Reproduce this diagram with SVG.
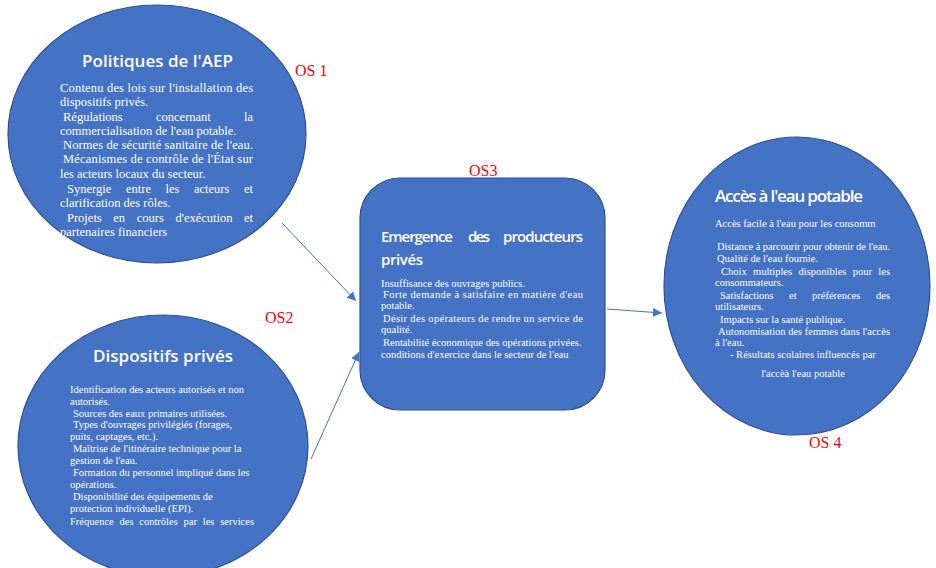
<svg xmlns="http://www.w3.org/2000/svg" width="936" height="568" viewBox="0 0 936 568">
<defs>
<style>
.node{fill:#4472C4;stroke:#2F528F;stroke-width:1.2}
.title{font-family:"Open Sans","DejaVu Sans",sans-serif;font-weight:600;font-size:17px;fill:#fff}
.t3{font-size:15px}
.b1{font-family:"Liberation Serif","Times New Roman",serif;font-size:12.5px;fill:#fff}
.b2{font-family:"Liberation Serif","Times New Roman",serif;font-size:10.5px;fill:#fff}
.os{font-family:"Liberation Serif","Times New Roman",serif;font-size:16px;fill:#FF0000}
.conn{stroke:#4472C4;stroke-width:1;fill:none}
</style>
<marker id="arr" viewBox="0 0 10 10" refX="10" refY="5" markerWidth="9" markerHeight="9" markerUnits="userSpaceOnUse" orient="auto">
<path d="M0,0 L10,5 L0,10 z" fill="#4472C4"/>
</marker>
</defs>
<rect width="936" height="568" fill="#fff"/>

<g id="connectors">
<line class="conn" x1="282" y1="223" x2="356" y2="301" marker-end="url(#arr)"/>
<line class="conn" x1="311" y1="459" x2="359" y2="352" marker-end="url(#arr)"/>
<line class="conn" x1="607" y1="309" x2="662" y2="313" marker-end="url(#arr)"/>
</g>

<g id="os1">
<ellipse class="node" cx="157" cy="134" rx="149" ry="129"/>
<text class="title" x="82" y="67" textLength="151">Politiques de l'AEP</text>
<text class="b1" x="60" y="92" textLength="193" lengthAdjust="spacing">Contenu des lois sur l'installation des</text>
<text class="b1" x="60" y="106">dispositifs privés.</text>
<text class="b1" y="121"><tspan x="63">Régulations</tspan><tspan x="156">concernant</tspan><tspan x="253" text-anchor="end">la</tspan></text>
<text class="b1" x="60" y="135">commercialisation de l'eau potable.</text>
<text class="b1" x="63" y="149" textLength="190" lengthAdjust="spacing">Normes de sécurité sanitaire de l'eau.</text>
<text class="b1" x="63" y="163" textLength="190" lengthAdjust="spacing">Mécanismes de contrôle de l'État sur</text>
<text class="b1" x="60" y="178">les acteurs locaux du secteur.</text>
<text class="b1" y="193"><tspan x="67">Synergie</tspan><tspan x="126">entre</tspan><tspan x="165.6">les</tspan><tspan x="194">acteurs</tspan><tspan x="253" text-anchor="end">et</tspan></text>
<text class="b1" x="60" y="207">clarification des rôles.</text>
<text class="b1" y="222"><tspan x="67">Projets</tspan><tspan x="113.3">en</tspan><tspan x="136.7">cours</tspan><tspan x="175.4">d'exécution</tspan><tspan x="253" text-anchor="end">et</tspan></text>
<text class="b1" x="60" y="236">partenaires financiers</text>
</g>
<text class="os" x="295" y="76">OS 1</text>

<g id="os2">
<ellipse class="node" cx="163" cy="446" rx="145" ry="131"/>
<text class="title" x="93" y="362" textLength="140">Dispositifs privés</text>
<text class="b2" x="70" y="393">Identification des acteurs autorisés et non</text>
<text class="b2" x="70" y="405">autorisés.</text>
<text class="b2" x="73" y="417">Sources des eaux primaires utilisées.</text>
<text class="b2" x="73" y="428">Types d'ouvrages privilégiés (forages,</text>
<text class="b2" x="70" y="440">puits, captages, etc.).</text>
<text class="b2" x="73" y="452">Maîtrise de l'itinéraire technique pour la</text>
<text class="b2" x="70" y="464">gestion de l'eau.</text>
<text class="b2" x="73" y="476">Formation du personnel impliqué dans les</text>
<text class="b2" x="70" y="488">opérations.</text>
<text class="b2" x="73" y="500">Disponibilité des équipements de</text>
<text class="b2" x="70" y="512">protection individuelle (EPI).</text>
<text class="b2" y="525"><tspan x="70">Fréquence</tspan><tspan x="119.5">des</tspan><tspan x="139.3">contrôles</tspan><tspan x="183.6">par</tspan><tspan x="202.8">les</tspan><tspan x="254" text-anchor="end">services</tspan></text>
</g>
<text class="os" x="265" y="323">OS2</text>

<g id="os3">
<rect class="node" x="360" y="178" width="245" height="232" rx="40" ry="40" stroke-width="1.5"/>
<text class="title t3" x="381" y="242" textLength="72">Emergence</text>
<text class="title t3" x="468" y="242" textLength="22">des</text>
<text class="title t3" x="503" y="242" textLength="80">producteurs</text>
<text class="title t3" x="381" y="265" textLength="42">privés</text>
<text class="b2" x="381" y="287">Insuffisance des ouvrages publics.</text>
<text class="b2" x="383" y="298" textLength="200" lengthAdjust="spacing">Forte demande à satisfaire en matière d'eau</text>
<text class="b2" x="381" y="309">potable.</text>
<text class="b2" x="383" y="322" textLength="200" lengthAdjust="spacing">Désir des opérateurs de rendre un service de</text>
<text class="b2" x="381" y="333">qualité.</text>
<text class="b2" x="383" y="346">Rentabilité économique des opérations privées.</text>
<text class="b2" x="381" y="358">conditions d'exercice dans le secteur de l'eau</text>
</g>
<text class="os" x="469" y="176">OS3</text>

<g id="os4">
<ellipse class="node" cx="797" cy="286" rx="133" ry="149"/>
<text class="title" x="715" y="202" textLength="148">Accès à l'eau potable</text>
<text class="b2" x="715" y="227">Accès facile à l'eau pour les consomm</text>
<text class="b2" x="717" y="250" textLength="173" lengthAdjust="spacing">Distance à parcourir pour obtenir de l'eau.</text>
<text class="b2" x="717" y="262">Qualité de l'eau fournie.</text>
<text class="b2" y="275"><tspan x="721">Choix</tspan><tspan x="753">multiples</tspan><tspan x="798.6">disponibles</tspan><tspan x="852.8">pour</tspan><tspan x="890" text-anchor="end">les</tspan></text>
<text class="b2" x="715" y="286">consommateurs.</text>
<text class="b2" y="299"><tspan x="720">Satisfactions</tspan><tspan x="789">et</tspan><tspan x="812">préférences</tspan><tspan x="890" text-anchor="end">des</tspan></text>
<text class="b2" x="715" y="310">utilisateurs.</text>
<text class="b2" x="720" y="323">Impacts sur la santé publique.</text>
<text class="b2" x="718" y="335" textLength="172" lengthAdjust="spacing">Autonomisation des femmes dans l'accès</text>
<text class="b2" x="715" y="346">à l'eau.</text>
<text class="b2" x="730" y="358">- Résultats scolaires influencés par</text>
<text class="b2" x="803" y="377" text-anchor="middle">l'accèà l'eau potable</text>
</g>
<text class="os" x="809" y="448">OS 4</text>
</svg>
